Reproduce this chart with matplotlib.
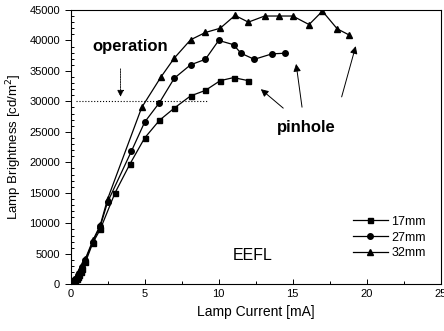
import matplotlib
matplotlib.use('Agg')
import matplotlib.pyplot as plt
from matplotlib.ticker import MultipleLocator

plt.rcParams['font.family'] = ['Liberation Sans', 'DejaVu Sans']

# lamp current [mA] vs brightness [cd/m2] for three lamp lengths
x_17 = [0.2, 0.3, 0.4, 0.5, 0.6, 0.7, 0.8, 1.0, 1.5, 2.0, 3.0, 4.0, 5.0, 6.0,
        7.0, 8.1, 9.1, 10.1, 11.0, 12.0]
y_17 = [400, 600, 900, 1200, 1600, 2000, 2500, 3600, 6800, 9000, 15000, 19700,
        24000, 26900, 28900, 30900, 31800, 33400, 33900, 33400]

x_27 = [0.2, 0.3, 0.4, 0.5, 0.6, 0.7, 0.8, 1.0, 1.5, 2.0, 2.5, 4.1, 5.0, 6.0,
        7.0, 8.1, 9.1, 10.0, 11.0, 11.5, 12.4, 13.6, 14.5]
y_27 = [500, 800, 1100, 1500, 1900, 2400, 2900, 4000, 7000, 9500, 13500, 21800,
        26600, 29800, 33800, 36000, 36900, 40000, 39300, 37900, 36900, 37800, 37900]

x_32 = [0.2, 0.3, 0.4, 0.5, 0.6, 0.7, 0.8, 1.0, 1.5, 2.0, 2.5, 4.8, 6.1, 7.0,
        8.1, 9.1, 10.1, 11.1, 12.0, 13.1, 14.1, 15.0, 16.1, 17.0, 18.0, 18.8]
y_32 = [600, 900, 1300, 1700, 2100, 2600, 3100, 4200, 7200, 9700, 14000, 29000,
        34000, 37100, 40100, 41300, 42000, 44100, 43000, 44000, 44000, 44000,
        42600, 44800, 41900, 40900]

# pinhole arrows: (tail, head)
pin_arrows = [((14.5, 28600), (12.7, 32300)),
              ((15.65, 28600), (15.2, 36600)),
              ((18.25, 30300), (19.3, 39500))]

fig = plt.figure(figsize=(4.44, 3.31), dpi=100)
ax = fig.add_axes([0.159, 0.141, 0.834, 0.829])

ax.plot(x_17, y_17, '-', color='black', lw=0.9, marker='s', ms=3.6, label='17mm')
ax.plot(x_27, y_27, '-', color='black', lw=0.9, marker='o', ms=4.0, label='27mm')
ax.plot(x_32, y_32, '-', color='black', lw=0.9, marker='^', ms=4.8, label='32mm')

# operation level
ax.plot([0.35, 9.2], [30000, 30000], ':', color='black', lw=0.8)
ax.annotate('', xy=(3.37, 30300), xytext=(3.37, 35800),
            arrowprops=dict(arrowstyle='-|>', color='black', lw=0.6,
                            linestyle=(0, (2, 1)), mutation_scale=10))
ax.text(4.0, 39000, 'operation', ha='center', va='center',
        fontsize=12, fontweight='bold')

for tail, head in pin_arrows:
    ax.annotate('', xy=head, xytext=tail,
                arrowprops=dict(arrowstyle='-|>', color='black', lw=0.7,
                                mutation_scale=11))
ax.text(15.9, 25800, 'pinhole', ha='center', va='center',
        fontsize=12, fontweight='bold')

ax.text(12.3, 4700, 'EEFL', ha='center', va='center', fontsize=11.5)

ax.set_xlim(0, 25)
ax.set_ylim(0, 45000)
ax.xaxis.set_major_locator(MultipleLocator(5))
ax.xaxis.set_minor_locator(MultipleLocator(2.5))
ax.yaxis.set_major_locator(MultipleLocator(5000))
ax.yaxis.set_minor_locator(MultipleLocator(1000))
ax.tick_params(axis='x', which='both', direction='in', labelsize=8)
ax.tick_params(axis='y', which='major', direction='out', labelsize=8, length=4)
ax.tick_params(axis='y', which='minor', direction='in', length=2)
ax.tick_params(axis='both', which='both', width=0.7)
for s in ax.spines.values():
    s.set_linewidth(0.8)

ax.set_xlabel('Lamp Current [mA]', fontsize=10)
ax.set_ylabel('Lamp Brightness [cd/m$^2$]', fontsize=9.5)

ax.legend(loc='lower right', bbox_to_anchor=(0.99, 0.05), frameon=False,
          fontsize=9, handlelength=2.8, handletextpad=0.3, labelspacing=0.3)

fig.savefig('out.png', dpi=100)
